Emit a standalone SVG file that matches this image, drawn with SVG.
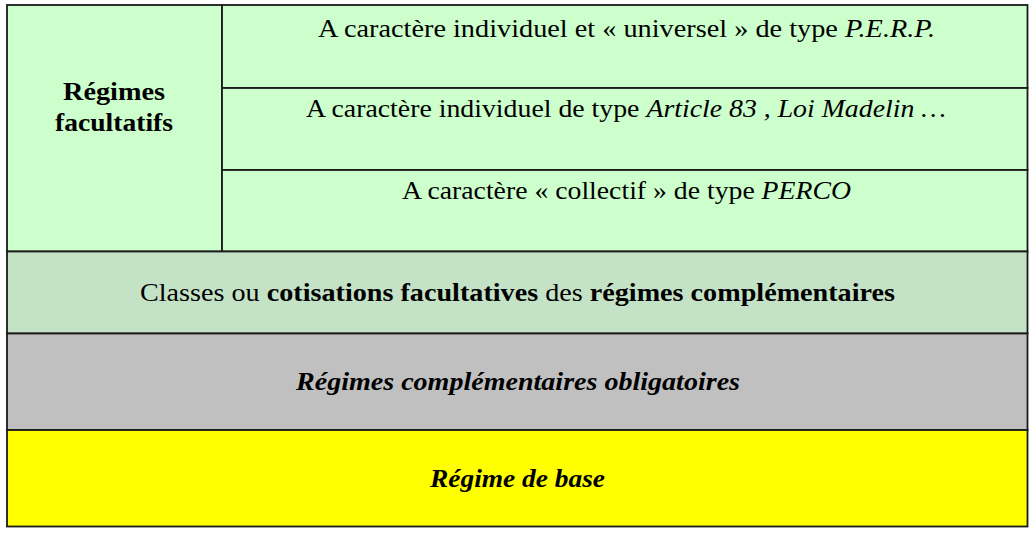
<svg xmlns="http://www.w3.org/2000/svg" width="1036" height="533" viewBox="0 0 1036 533">
<style>
.cell{stroke:#1a1a1a;stroke-width:1.8}
.t{font-family:"Liberation Serif","Times New Roman",serif;font-size:25px;fill:#000;text-anchor:middle}
.b{font-weight:bold}
.i{font-style:italic}
</style>
<rect width="1036" height="533" fill="#fff"/>
<g id="facultatifs">
<rect class="cell" x="7" y="5" width="215" height="246.5" fill="#ccffcc"/>
<text class="t b" x="114" y="100" textLength="102" lengthAdjust="spacingAndGlyphs">Régimes</text>
<text class="t b" x="114" y="131" textLength="118" lengthAdjust="spacingAndGlyphs">facultatifs</text>
</g>
<g id="perp">
<rect class="cell" x="222" y="5" width="805.5" height="83" fill="#ccffcc"/>
<text class="t" x="626.5" y="37" textLength="617" lengthAdjust="spacingAndGlyphs">A caractère individuel et « universel » de type <tspan class="i">P.E.R.P.</tspan></text>
</g>
<g id="article83">
<rect class="cell" x="222" y="88" width="805.5" height="82" fill="#ccffcc"/>
<text class="t" x="626" y="117" textLength="640" lengthAdjust="spacingAndGlyphs">A caractère individuel de type <tspan class="i">Article 83 , Loi Madelin …</tspan></text>
</g>
<g id="perco">
<rect class="cell" x="222" y="170" width="805.5" height="81.5" fill="#ccffcc"/>
<text class="t" x="626.5" y="199" textLength="449" lengthAdjust="spacingAndGlyphs">A caractère « collectif » de type <tspan class="i">PERCO</tspan></text>
</g>
<g id="cotisations">
<rect class="cell" x="7" y="251.5" width="1020.5" height="82" fill="#c4e2c6"/>
<text class="t" x="517.5" y="301" textLength="755" lengthAdjust="spacingAndGlyphs">Classes ou <tspan class="b">cotisations facultatives</tspan> des <tspan class="b">régimes complémentaires</tspan></text>
</g>
<g id="obligatoires">
<rect class="cell" x="7" y="333.5" width="1020.5" height="96.5" fill="#c0c0c0"/>
<text class="t b i" x="518" y="390" textLength="444" lengthAdjust="spacingAndGlyphs">Régimes complémentaires obligatoires</text>
</g>
<g id="base">
<rect class="cell" x="7" y="430" width="1020.5" height="96.5" fill="#ffff00"/>
<text class="t b i" x="517.5" y="487" textLength="175" lengthAdjust="spacingAndGlyphs">Régime de base</text>
</g>
<g id="connectors"/>
</svg>
